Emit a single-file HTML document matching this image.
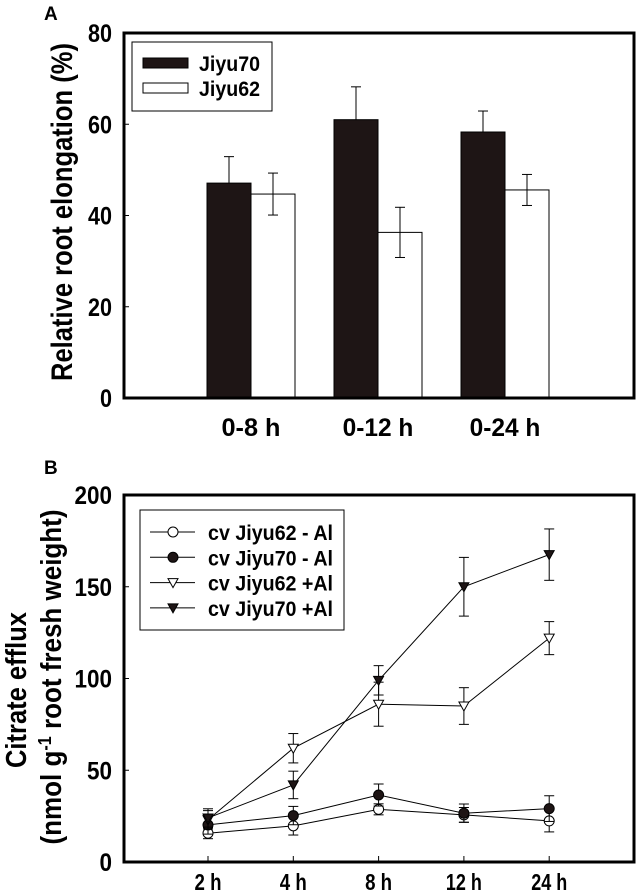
<!DOCTYPE html>
<html><head><meta charset="utf-8"><style>
html,body{margin:0;padding:0;background:#fff}
svg{display:block;font-family:"Liberation Sans",Arial,sans-serif}
</style></head><body>
<svg id="chart" width="640" height="895" viewBox="0 0 640 895"></svg>
<script>
// Panel A data
const catsA = ["0-8 h","0-12 h","0-24 h"];
const jiyu70A = [47.1, 61.0, 58.3];
const jiyu70AErr = [5.8, 7.2, 4.6];
const jiyu62A = [44.7, 36.3, 45.6];
const jiyu62AErr = [4.6, 5.5, 3.4];
const ticksA = [0,20,40,60,80];
// Panel B data
const catsB = ["2 h","4 h","8 h","12 h","24 h"];
const j62minus = [15.7, 19.7, 28.7, 25.7, 22.4];
const j62minusErr = [3, 5, 3, 4, 6];
const j70minus = [20.2, 25.3, 36.5, 26.6, 29.1];
const j70minusErr = [5, 5, 6, 5, 7];
const j62plus = [23, 62, 86, 85, 122];
const j62plusErr = [5, 8, 12, 10, 9];
const j70plus = [24, 42, 99, 150, 167.5];
const j70plusErr = [5, 7.5, 8, 16, 14];
const ticksB = [0,50,100,150,200];

const NS="http://www.w3.org/2000/svg";
const svg=document.getElementById('chart');
function mk(tag,attrs,parent,text){const e=document.createElementNS(NS,tag);for(const k in attrs)e.setAttribute(k,attrs[k]);if(text!==undefined)e.textContent=text;(parent||svg).appendChild(e);return e;}
const NARROW=0.82;
function narrowLen(str,size){return str.length*size*0.55*NARROW;}

// ---------- Panel A ----------
const A={l:124,r:634,t:33,b:398,max:80};
const yA=v=>A.b-(v/A.max)*(A.b-A.t);
const xA=i=>251+i*127;
const gA=mk('g',{});


let t=mk('text',{x:44,y:20,'font-size':19,'font-weight':'bold'},gA,'A');

ticksA.forEach(v=>{
  const s=String(v);
  const tl=mk('text',{x:112,y:yA(v)+9,'font-size':25,'font-weight':'bold','text-anchor':'end',textLength:s.length*12,lengthAdjust:'spacingAndGlyphs'},gA,s);
  
  mk('line',{x1:A.l,x2:A.l+5,y1:yA(v),y2:yA(v),stroke:'#000','stroke-width':1},gA);
});
t=mk('text',{transform:'translate(72,212) rotate(-90)','font-size':30,'font-weight':'bold','text-anchor':'middle',textLength:338,lengthAdjust:'spacingAndGlyphs'},gA,'Relative root elongation (%)');

const bw=44;
catsA.forEach((c,i)=>{
  const cx=xA(i);
  const b1=mk('rect',{x:cx-bw,y:yA(jiyu70A[i]),width:bw,height:A.b-yA(jiyu70A[i]),fill:'#1e1515',stroke:'#000','stroke-width':1},gA);
  
  const b2=mk('rect',{x:cx,y:yA(jiyu62A[i]),width:bw,height:A.b-yA(jiyu62A[i]),fill:'#fff',stroke:'#000','stroke-width':1},gA);
  
  [[cx-bw/2,jiyu70A[i],jiyu70AErr[i],true],[cx+bw/2,jiyu62A[i],jiyu62AErr[i],false]].forEach(([ex,v,e,up])=>{
    const top=yA(v+e), bot=up?yA(v):yA(v-e);
    mk('line',{x1:ex,x2:ex,y1:top,y2:bot,stroke:'#000','stroke-width':1},gA);
    mk('line',{x1:ex-5,x2:ex+5,y1:top,y2:top,stroke:'#000','stroke-width':1},gA);
    if(!up)mk('line',{x1:ex-5,x2:ex+5,y1:bot,y2:bot,stroke:'#000','stroke-width':1},gA);
  });
  const xl=mk('text',{x:cx,y:436,'font-size':25,'font-weight':'bold','text-anchor':'middle',textLength:c.length*11.8,lengthAdjust:'spacingAndGlyphs'},gA,c);
  
});
mk('rect',{x:A.l,y:A.t,width:A.r-A.l,height:A.b-A.t,fill:'none',stroke:'#000','stroke-width':3},gA);
const legA=mk('g',{},gA);

mk('rect',{x:132,y:42,width:140,height:69,fill:'#fff',stroke:'#000','stroke-width':1},legA);
mk('rect',{x:143,y:58,width:45,height:10,fill:'#1e1515',stroke:'#000','stroke-width':1},legA);
mk('rect',{x:143,y:83,width:45,height:10,fill:'#fff',stroke:'#000','stroke-width':1},legA);
t=mk('text',{x:199,y:71,'font-size':21,'font-weight':'bold',textLength:61,lengthAdjust:'spacingAndGlyphs'},legA,'Jiyu70');

t=mk('text',{x:199,y:96,'font-size':21,'font-weight':'bold',textLength:61,lengthAdjust:'spacingAndGlyphs'},legA,'Jiyu62');


// ---------- Panel B ----------
const B={l:124,r:634,t:495,b:862,max:200};
const yB=v=>B.b-(v/B.max)*(B.b-B.t);
const xB=i=>208+i*85.3;
const gB=mk('g',{});

t=mk('text',{x:44,y:474,'font-size':19,'font-weight':'bold'},gB,'B');

ticksB.forEach(v=>{
  const s=String(v);
  const tl=mk('text',{x:112,y:yB(v)+9,'font-size':25,'font-weight':'bold','text-anchor':'end',textLength:s.length*12.5,lengthAdjust:'spacingAndGlyphs'},gB,s);
  
  mk('line',{x1:B.l,x2:B.l+5,y1:yB(v),y2:yB(v),stroke:'#000','stroke-width':1},gB);
});
catsB.forEach((c,i)=>{
  mk('line',{x1:xB(i),x2:xB(i),y1:B.b,y2:B.b-6,stroke:'#000','stroke-width':1},gB);
  const xl=mk('text',{x:xB(i),y:890,'font-size':23,'font-weight':'bold','text-anchor':'middle',textLength:c.length*9,lengthAdjust:'spacingAndGlyphs'},gB,c);
  
});
t=mk('text',{transform:'translate(26,690) rotate(-90)','font-size':29,'font-weight':'bold','text-anchor':'middle',textLength:156,lengthAdjust:'spacingAndGlyphs'},gB,'Citrate efflux');

t=mk('text',{transform:'translate(61,677) rotate(-90)','font-size':29,'font-weight':'bold','text-anchor':'middle',textLength:335,lengthAdjust:'spacingAndGlyphs'},gB);

mk('tspan',{},t,'(nmol g');mk('tspan',{dy:-10,'font-size':18},t,'-1');mk('tspan',{dy:10},t,' root fresh weight)');

function marker(g,type,x,y,r){
  if(type==='oc')return mk('circle',{cx:x,cy:y,r:r,fill:'#fff',stroke:'#000','stroke-width':1},g);
  if(type==='fc')return mk('circle',{cx:x,cy:y,r:r,fill:'#1e1515',stroke:'#000','stroke-width':1},g);
  const p=`${x-r},${y-r*0.8} ${x+r},${y-r*0.8} ${x},${y+r}`;
  return mk('polygon',{points:p,fill:type==='ot'?'#fff':'#1e1515',stroke:'#000','stroke-width':1},g);
}
const series=[
  {name:'cv Jiyu62 - Al',d:j62minus,e:j62minusErr,m:'oc',id:'series-jiyu62-minus-al'},
  {name:'cv Jiyu70 - Al',d:j70minus,e:j70minusErr,m:'fc',id:'series-jiyu70-minus-al'},
  {name:'cv Jiyu62 +Al',d:j62plus,e:j62plusErr,m:'ot',id:'series-jiyu62-plus-al'},
  {name:'cv Jiyu70 +Al',d:j70plus,e:j70plusErr,m:'ft',id:'series-jiyu70-plus-al'}
];
series.forEach(s=>{
  const g=mk('g',{},gB);
  
  s.d.forEach((v,i)=>{
    const x=xB(i),t1=yB(v+s.e[i]),b1=yB(v-s.e[i]);
    mk('line',{x1:x,x2:x,y1:t1,y2:b1,stroke:'#000','stroke-width':1},g);
    mk('line',{x1:x-5,x2:x+5,y1:t1,y2:t1,stroke:'#000','stroke-width':1},g);
    mk('line',{x1:x-5,x2:x+5,y1:b1,y2:b1,stroke:'#000','stroke-width':1},g);
  });
  const pl=mk('polyline',{points:s.d.map((v,i)=>xB(i)+','+yB(v)).join(' '),fill:'none',stroke:'#000','stroke-width':1},g);
  
  s.d.forEach((v,i)=>{
    const m=marker(g,s.m,xB(i),yB(v),5);
    
  });
});
mk('rect',{x:B.l,y:B.t,width:B.r-B.l,height:B.b-B.t,fill:'none',stroke:'#000','stroke-width':3},gB);
const legB=mk('g',{},gB);

mk('rect',{x:140,y:510,width:204,height:120,fill:'#fff',stroke:'#000','stroke-width':1},legB);
series.forEach((s,i)=>{
  const y=532+i*25.3;
  mk('line',{x1:150,x2:195,y1:y,y2:y,stroke:'#000','stroke-width':1},legB);
  marker(legB,s.m,173,y,5);
  const lt=mk('text',{x:208,y:y+8,'font-size':21,'font-weight':'bold',textLength:125,lengthAdjust:'spacingAndGlyphs'},legB,s.name);
  
});
</script>
</body></html>
